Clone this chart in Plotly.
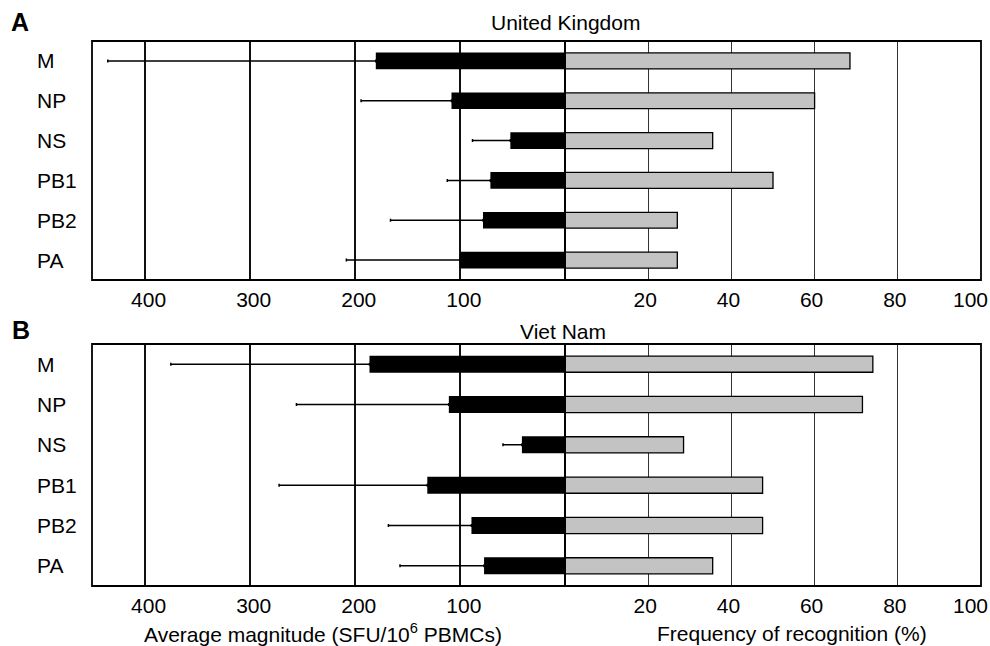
import plotly.graph_objects as go

proteins = ["M", "NP", "NS", "PB1", "PB2", "PA"]

# Panel A: United Kingdom
uk_magnitude = [180, 108, 52, 71, 78, 100]
uk_magnitude_err = [255, 86, 36, 41, 88, 108]
uk_frequency = [68.5, 60, 35.5, 50, 27, 27]

# Panel B: Viet Nam
vn_magnitude = [186, 110.5, 41, 131, 89, 77]
vn_magnitude_err = [189, 145, 18, 141, 79, 80]
vn_frequency = [74, 71.5, 28.5, 47.5, 47.5, 35.5]

mag_ticks = [100, 200, 300, 400]
freq_ticks = [20, 40, 60, 80, 100]

FONT = "Liberation Sans, Arial, Helvetica, sans-serif"
W, H = 990, 646

def px_x(p):
    return p / W

def px_y(p):
    return 1 - p / H

fig = go.Figure()

def add_panel(mag, err, freq, xl, xr, ya):
    fig.add_trace(go.Bar(
        y=proteins, x=mag, orientation="h", width=0.42,
        marker=dict(color="black", line=dict(color="black", width=0)),
        error_x=dict(type="data", symmetric=False, array=err,
                     arrayminus=[0] * len(err), color="black",
                     thickness=1.5, width=1.5),
        xaxis=xl, yaxis=ya, showlegend=False, hoverinfo="skip"))
    fig.add_trace(go.Bar(
        y=proteins, x=freq, orientation="h", width=0.4,
        marker=dict(color="#c3c3c3", line=dict(color="black", width=1.3)),
        xaxis=xr, yaxis=ya, showlegend=False, hoverinfo="skip"))

add_panel(uk_magnitude, uk_magnitude_err, uk_frequency, "x", "x2", "y")
add_panel(vn_magnitude, vn_magnitude_err, vn_frequency, "x3", "x4", "y2")

left_dom = [px_x(92), px_x(565)]
right_dom = [px_x(565), px_x(981)]
a_dom = [px_y(280), px_y(41)]
b_dom = [px_y(586), px_y(344)]

tickfont = dict(family=FONT, size=21, color="black")

def mag_axis(anchor):
    return dict(domain=left_dom, range=[450, 0], anchor=anchor,
                tickvals=mag_ticks, ticktext=[str(v) for v in mag_ticks],
                showgrid=True, gridcolor="#111111", gridwidth=1.6,
                zeroline=False, showline=False, ticks="outside",
                ticklen=1, tickcolor="rgba(0,0,0,0)", tickfont=tickfont,
                ticklabelshift=-4)

def freq_axis(anchor):
    # the last tick (100) sits on the frame edge; its label is drawn as an
    # annotation below so it stays inside the page like the reference
    return dict(domain=right_dom, range=[0, 100], anchor=anchor,
                tickvals=freq_ticks[:-1], ticktext=[str(v) for v in freq_ticks[:-1]],
                showgrid=True, gridcolor="#333333", gridwidth=1.2,
                zeroline=False, showline=False, ticks="outside",
                ticklen=1, tickcolor="rgba(0,0,0,0)", tickfont=tickfont,
                ticklabelshift=-3)

def cat_axis(dom, anchor):
    return dict(domain=dom, anchor=anchor, type="category",
                categoryorder="array", categoryarray=proteins,
                range=[5.5, -0.5], showticklabels=False, showgrid=False,
                zeroline=False, showline=False, ticks="")

fig.update_layout(
    width=W, height=H, margin=dict(l=0, r=0, t=0, b=0),
    paper_bgcolor="white", plot_bgcolor="white",
    font=dict(family=FONT, color="black"),
    barmode="overlay",
    xaxis=mag_axis("y"), xaxis2=freq_axis("y"),
    xaxis3=mag_axis("y2"), xaxis4=freq_axis("y2"),
    yaxis=cat_axis(a_dom, "x"), yaxis2=cat_axis(b_dom, "x3"),
)

# frames around each half-panel
for xr_, yr_ in [("x", "y"), ("x2", "y"), ("x3", "y2"), ("x4", "y2")]:
    fig.add_shape(type="rect", xref=f"{xr_} domain", yref=f"{yr_} domain",
                  x0=0, x1=1, y0=0, y1=1, line=dict(color="black", width=1.8),
                  layer="above")

annotations = []
# last frequency tick label on each panel
for xr_, yr_ in [("x2", "y"), ("x4", "y2")]:
    annotations.append(dict(text=str(freq_ticks[-1]), x=freq_ticks[-1], xref=xr_,
                            y=0, yref=f"{yr_} domain", xanchor="center",
                            yanchor="middle", yshift=-19, xshift=-11,
                            showarrow=False, font=tickfont))
# category labels
for ya in ["y", "y2"]:
    for p in proteins:
        annotations.append(dict(text=p, x=px_x(35), xref="paper", xanchor="left",
                                y=p, yref=ya, yanchor="middle", showarrow=False,
                                font=dict(family=FONT, size=21, color="black")))
# panel titles
annotations.append(dict(text="United Kingdom", x=px_x(565), y=px_y(23), xref="paper",
                        yref="paper", xanchor="center", yanchor="middle", showarrow=False,
                        font=dict(family=FONT, size=21, color="black")))
annotations.append(dict(text="Viet Nam", x=px_x(563), y=px_y(331), xref="paper",
                        yref="paper", xanchor="center", yanchor="middle", showarrow=False,
                        font=dict(family=FONT, size=21, color="black")))
# panel letters
annotations.append(dict(text="<b>A</b>", x=px_x(9), y=px_y(22), xref="paper", yref="paper",
                        xanchor="left", yanchor="middle", showarrow=False,
                        font=dict(family=FONT, size=25, color="black")))
annotations.append(dict(text="<b>B</b>", x=px_x(10), y=px_y(330), xref="paper", yref="paper",
                        xanchor="left", yanchor="middle", showarrow=False,
                        font=dict(family=FONT, size=25, color="black")))
# axis titles
annotations.append(dict(text="Average magnitude (SFU/10<sup>6</sup> PBMCs)", x=px_x(323),
                        y=px_y(633), xref="paper", yref="paper", xanchor="center",
                        yanchor="middle", showarrow=False,
                        font=dict(family=FONT, size=21, color="black")))
annotations.append(dict(text="Frequency of recognition (%)", x=px_x(792),
                        y=px_y(633), xref="paper", yref="paper", xanchor="center",
                        yanchor="middle", showarrow=False,
                        font=dict(family=FONT, size=21, color="black")))
fig.update_layout(annotations=annotations)

fig.write_html(
    "out.html", config={"displayModeBar": False},
    post_script=(
        "document.documentElement.style.overflow='hidden';"
        "document.body.style.margin='0';document.body.style.overflow='hidden';"
    ))
